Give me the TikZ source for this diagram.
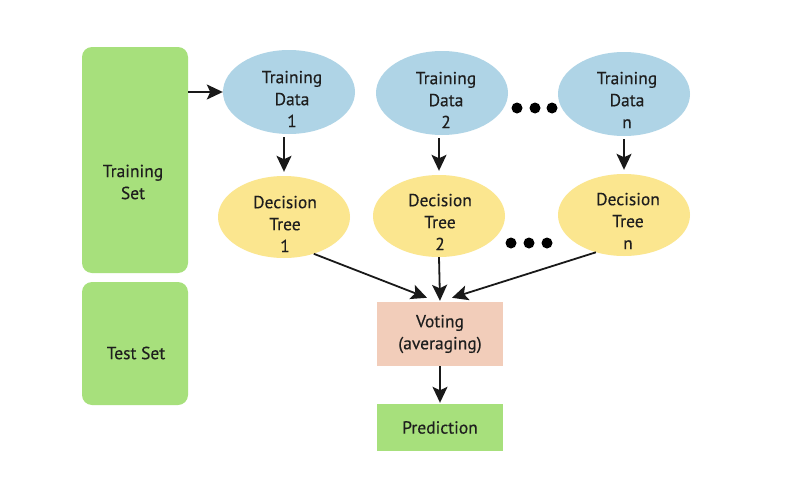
\documentclass[tikz,border=0pt]{standalone}
\usepackage{fontspec}
\setmainfont[FakeBold=0.35]{PT Sans}
\usetikzlibrary{shapes.geometric,arrows.meta}
\definecolor{setgreen}{HTML}{A7E07C}
\definecolor{dblue}{HTML}{AFD4E6}
\definecolor{tyellow}{HTML}{FBE68F}
\definecolor{vpeach}{HTML}{F2CDBA}
\definecolor{ink}{HTML}{1E1E1E}
\begin{document}
\begin{tikzpicture}[x=1pt,y=-1pt,
  every node/.style={font=\fontsize{17.5}{22}\selectfont, text=ink},
  setbox/.style={fill=setgreen, rounded corners=10pt, inner sep=0pt},
  tdata/.style={ellipse, fill=dblue, minimum width=132pt, minimum height=84pt, inner sep=0pt},
  dtree/.style={ellipse, fill=tyellow, minimum width=132pt, minimum height=82pt, inner sep=0pt},
  lbl/.style={align=center, inner sep=0pt},
  arr/.style={-{Stealth[length=16pt,width=15pt,inset=3.5pt]}, line width=1.8pt, draw=black!90},
  dotmark/.style={circle, fill=black, minimum size=11pt, inner sep=0pt}
]
\fill[white] (0,0) rectangle (793,482);
\useasboundingbox (0,0) rectangle (793,482);

% left sets
\node[setbox, minimum width=106pt, minimum height=226pt] (tset) at (135,160) {};
\node[lbl] (tsett) at (133,182) {Training\\Set};
\node[setbox, minimum width=106pt, minimum height=123pt] (test) at (135,343.5) {};
\node[lbl] (testt) at (136,353) {Test Set};

% training data
\node[tdata] (td1) at (289,92) {};
\node[lbl] (td1t) at (292,99) {Training\\Data\\1};
\node[tdata] (td2) at (442,93) {};
\node[lbl] (td2t) at (446,100) {Training\\Data\\2};
\node[tdata] (tdn) at (624,94) {};
\node[lbl] (tdnt) at (627,100) {Training\\Data\\n};

% decision trees
\node[dtree] (dt1) at (284,217) {};
\node[lbl] (dt1t) at (285,224) {Decision\\Tree\\1};
\node[dtree] (dt2) at (439,216) {};
\node[lbl] (dt2t) at (440,222) {Decision\\Tree\\2};
\node[dtree] (dtn) at (624,215) {};
\node[lbl] (dtnt) at (628,221) {Decision\\Tree\\n};

% dots
\node[dotmark] (a1) at (517,108) {};
\node[dotmark] (a2) at (535,108) {};
\node[dotmark] (a3) at (552,108) {};
\node[dotmark] (b1) at (511,243) {};
\node[dotmark] (b2) at (529,243) {};
\node[dotmark] (b3) at (547,243) {};

% voting and prediction
\node[fill=vpeach, minimum width=126pt, minimum height=64pt, inner sep=0pt, align=center] (vote) at (440,334) {Voting\\(averaging)};
\node[fill=setgreen, minimum width=126pt, minimum height=47pt, inner sep=0pt] (pred) at (440,427.5) {Prediction};

% connectors
\draw[arr] (tset.east |- td1) -- (td1.west);
\draw[arr, shorten <=3pt, shorten >=4pt] (td1.south -| dt1.north) -- (dt1.north);
\draw[arr, shorten <=3pt, shorten >=4pt] (td2.south -| dt2.north) -- (dt2.north);
\draw[arr, shorten <=3pt, shorten >=4pt] (tdn.south -| dtn.north) -- (dtn.north);
\draw[arr] (dt1.-51) -- ([xshift=-13pt,yshift=4pt]vote.north);
\draw[arr] (dt2.south) -- ([yshift=1pt]vote.north);
\draw[arr] (dtn.-127) -- ([xshift=12pt,yshift=4pt]vote.north);
\draw[arr, shorten >=1pt] (vote.south) -- (pred.north);
\end{tikzpicture}
\end{document}
